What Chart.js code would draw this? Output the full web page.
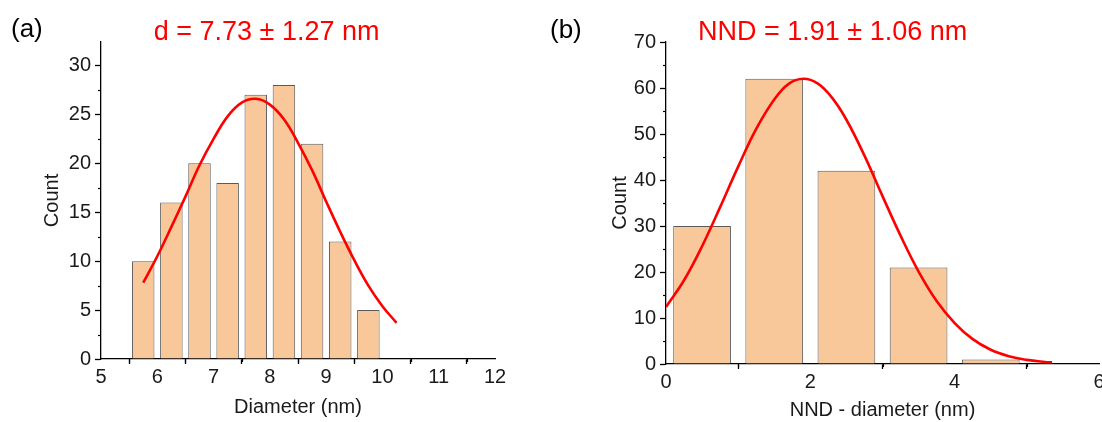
<!DOCTYPE html>
<html>
<head>
<meta charset="utf-8">
<script src="https://cdn.jsdelivr.net/npm/chart.js@4/dist/chart.umd.min.js"></script>
<style>
  html, body { margin:0; padding:0; width:1102px; height:422px; overflow:hidden; background:#fff; }
  canvas { position:absolute; top:0; }
  #c1 { left:0; }
  #c2 { left:551px; }
</style>
</head>
<body>
<canvas id="c1" width="551" height="422"></canvas>
<canvas id="c2" width="570" height="422"></canvas>
<script>
// ---- Data (a): particle diameter histogram ----
const diamBinCenters = [5.75, 6.25, 6.75, 7.25, 7.75, 8.25, 8.75, 9.25, 9.75];
const diamCounts     = [10, 16, 20, 18, 27, 28, 22, 12, 5];
const diamFitX = [5.75, 6.0, 6.25, 6.5, 6.75, 7.0, 7.25, 7.5, 7.75, 8.0, 8.25, 8.5, 8.75, 9.0, 9.25, 9.5, 9.75, 10.0, 10.25];
const diamFitY = [7.8, 10.5, 13.5, 16.6, 19.8, 22.5, 24.8, 26.2, 26.6, 26.0, 24.5, 22.1, 19.3, 16.1, 13.0, 10.1, 7.5, 5.4, 3.7];
const diamTitle = 'd = 7.73 ± 1.27 nm';

// ---- Data (b): NND histogram ----
const nndBinCenters = [0.5, 1.5, 2.5, 3.5, 4.5];
const nndCounts     = [30, 62, 42, 21, 1];
const nndFitX = [0, 0.25, 0.5, 0.75, 1.0, 1.25, 1.5, 1.7, 1.9, 2.1, 2.3, 2.5, 2.75, 3.0, 3.25, 3.5, 3.75, 4.0, 4.25, 4.5, 4.75, 5.0, 5.25, 5.35];
const nndFitY = [12.4, 18.2, 25.6, 34.1, 42.9, 51.1, 57.5, 60.9, 62.0, 61.0, 57.9, 53.1, 45.3, 36.5, 27.9, 20.1, 13.7, 8.9, 5.4, 3.1, 1.7, 0.9, 0.45, 0.35];
const nndTitle = 'NND = 1.91 ± 1.06 nm';

const FONT = '"Liberation Sans", Arial, sans-serif';
const BAR_FILL = '#F9C89A';
const BAR_EDGE = '#5a5a5a';

const textPlugin = {
  id: 'texts',
  afterDraw(chart, args, opts) {
    const ctx = chart.ctx;
    (opts.items || []).forEach(it => {
      ctx.save();
      ctx.font = it.font;
      ctx.fillStyle = it.color;
      ctx.textAlign = it.align;
      ctx.textBaseline = 'alphabetic';
      ctx.fillText(it.text, it.x, it.y);
      ctx.restore();
    });
  }
};

const minorTickPlugin = {
  id: 'minorTicks',
  afterDraw(chart, args, opts) {
    const ctx = chart.ctx;
    ctx.save();
    ctx.strokeStyle = '#000';
    ctx.lineWidth = 1.2;
    const xs = chart.scales.x, ys = chart.scales.y;
    (opts.x || []).forEach(v => {
      const px = Math.round(xs.getPixelForValue(v)) + 0.5;
      ctx.beginPath(); ctx.moveTo(px, xs.top); ctx.lineTo(px, xs.top + opts.len); ctx.stroke();
    });
    (opts.y || []).forEach(v => {
      const py = Math.round(ys.getPixelForValue(v)) + 0.5;
      ctx.beginPath(); ctx.moveTo(ys.right, py); ctx.lineTo(ys.right - opts.len, py); ctx.stroke();
    });
    ctx.restore();
  }
};

function makeChart(id, cfg) {
  const xy = (xs, ys) => xs.map((x, i) => ({x, y: ys[i]}));
  return new Chart(document.getElementById(id), {
    type: 'bar',
    data: {
      datasets: [
        { type: 'line', data: xy(cfg.fitX, cfg.fitY), borderColor: '#FF0000', borderWidth: 2.6,
          pointRadius: 0, tension: 0.4, fill: false, order: 0 },
        { type: 'bar', data: xy(cfg.binX, cfg.counts), backgroundColor: BAR_FILL,
          borderColor: BAR_EDGE, borderWidth: 1, barPercentage: 1, categoryPercentage: cfg.barFrac, order: 1 }
      ]
    },
    options: {
      responsive: false,
      animation: false,
      events: [],
      layout: { padding: { left: 0, top: 42, right: cfg.padRight, bottom: 0 } },
      plugins: {
        legend: { display: false },
        tooltip: { enabled: false },
        texts: { items: cfg.texts },
        minorTicks: { x: cfg.minorX, y: cfg.minorY, len: 3 }
      },
      scales: {
        x: {
          type: 'linear', min: cfg.xMin, max: cfg.xMax, offset: false,
          afterFit: s => { s.height = cfg.xAxisH; },
          border: { display: true, color: '#000', width: 1.3 },
          grid: { display: true, drawOnChartArea: false, drawTicks: true, tickLength: 5, tickColor: '#000', tickWidth: 1.3 },
          ticks: { stepSize: cfg.xStep, padding: 1, color: '#1a1a1a', font: { family: FONT, size: 20 }, maxRotation: 0 },
          title: { display: true, text: cfg.xTitle, color: '#1a1a1a', font: { family: FONT, size: 20 }, padding: { top: 0, bottom: cfg.xTitlePad } }
        },
        y: {
          type: 'linear', min: 0, max: cfg.yMax,
          afterFit: s => { s.width = cfg.yAxisW; },
          afterBuildTicks: s => { s.ticks = s.ticks.filter(t => Math.abs(t.value / cfg.yStep - Math.round(t.value / cfg.yStep)) < 1e-6); },
          border: { display: true, color: '#000', width: 1.3 },
          grid: { display: true, drawOnChartArea: false, drawTicks: true, tickLength: 6, tickColor: '#000', tickWidth: 1.3 },
          ticks: { stepSize: cfg.yStep, padding: 4, color: '#1a1a1a', font: { family: FONT, size: 20 } },
          title: { display: true, text: 'Count', color: '#1a1a1a', font: { family: FONT, size: 20 }, padding: { top: cfg.yTitlePad, bottom: 0 } }
        }
      }
    },
    plugins: [textPlugin, minorTickPlugin]
  });
}

makeChart('c1', {
  binX: diamBinCenters, counts: diamCounts, fitX: diamFitX, fitY: diamFitY,
  barFrac: 0.8, xMin: 5, xMax: 12, xStep: 1, yMax: 32.4, yStep: 5,
  minorX: [5.5, 6.5, 7.5, 8.5, 9.5, 10.5, 11.5], minorY: [2.5, 7.5, 12.5, 17.5, 22.5, 27.5],
  xAxisH: 63, yAxisW: 101, padRight: 56, xTitle: 'Diameter (nm)', xTitlePad: 3, yTitlePad: 40,
  texts: [
    { text: '(a)', x: 11, y: 36.5, font: '26px ' + FONT, color: '#000', align: 'left' },
    { text: diamTitle, x: 266.6, y: 40, font: '27px ' + FONT, color: '#FF0000', align: 'center' }
  ]
});

makeChart('c2', {
  binX: nndBinCenters, counts: nndCounts, fitX: nndFitX, fitY: nndFitY,
  barFrac: 0.8, xMin: 0, xMax: 6, xStep: 2, yMax: 70, yStep: 10,
  minorX: [1, 3, 5], minorY: [5, 15, 25, 35, 45, 55, 65],
  xAxisH: 58, yAxisW: 115, padRight: 22, xTitle: 'NND - diameter (nm)', xTitlePad: 0, yTitlePad: 57,
  texts: [
    { text: '(b)', x: -1, y: 38, font: '26px ' + FONT, color: '#000', align: 'left' },
    { text: nndTitle, x: 281.6, y: 40, font: '27px ' + FONT, color: '#FF0000', align: 'center' }
  ]
});
</script>
</body>
</html>
